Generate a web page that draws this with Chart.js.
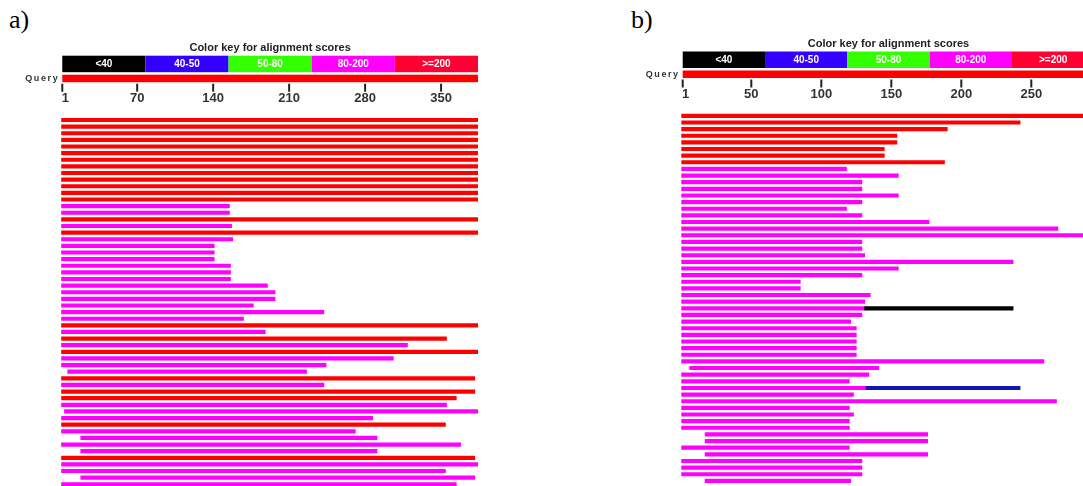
<!DOCTYPE html>
<html>
<head>
<meta charset="utf-8">
<script src="https://cdn.jsdelivr.net/npm/chart.js@4.4.1/dist/chart.umd.min.js"></script>
<style>
  body { margin: 0; width: 1083px; height: 486px; overflow: hidden; background: #fff; position: relative; }
  .lbl { position: absolute; font-family: "Liberation Serif", serif; font-size: 26px; line-height: 26px; color: #000; }
  canvas { position: absolute; top: 0; }
</style>
</head>
<body>
<div class="lbl" style="left:9px; top:7px">a)</div>
<div class="lbl" style="left:631px; top:7px">b)</div>
<canvas id="chartA" width="540" height="500" style="left:0"></canvas>
<canvas id="chartB" width="520" height="500" style="left:600px"></canvas>
<script>
// colour key (score bins)
const keyLabels = ["<40", "40-50", "50-80", "80-200", ">=200"];
const keyColors = ["#000000", "#3300ff", "#33ff00", "#ff00ff", "#ff0033"];
const hitColors = ["#000000", "#1414b0", "#33ff00", "#ff00ff", "#ff0000"];

// panel a) query length 384
const lenA = 384;
const ticksA = [1, 70, 140, 210, 280, 350];
const startA = [1,1,1,1,1,1,1,1,1,1,1,1,1, 1,1,1,1,1,1,1,1,1,1,1,1,1,1,1,1,1,1,1,1,1,1,1,1,1,7,1,1,1,1,1,4,1,1,1,19,1,19,1,1,1,19,1];
const endA   = [384,384,384,384,384,384,384,384,384,384,384,384,384, 155,155,384,157,384,158,141,141,141,156,156,156,190,197,197,177,242,168,384,188,355,319,384,306,244,226,381,242,381,364,355,384,287,354,271,291,368,291,381,384,354,381,364];
const binA   = [4,4,4,4,4,4,4,4,4,4,4,4,4, 3,3,4,3,4,3,3,3,3,3,3,3,3,3,3,3,3,3,4,3,4,3,4,3,3,3,4,3,4,4,3,3,3,4,3,3,3,3,4,3,3,3,3];

// panel b) query length 295
const lenB = 295;
const ticksB = [1, 50, 100, 150, 200, 250];
const startB = [1,1,1,1,1,1,1,1, 1,1,1,1,1,1,1,1,1,1,1,1,1,1,1,1,1,1,1,1,1,1,1,1,1,1,1,1,1,1,7,1,1,1,1,1,1,1,1,1,18,18,1,18,1,1,1,18];
const endB   = [295,242,190,154,154,145,145,188, 118,155,129,129,155,129,118,129,177,269,295,129,129,131,237,155,129,85,85,135,131,131,129,121,125,125,125,125,125,259,141,134,120,132,123,268,120,123,120,120,176,176,120,176,129,129,129,121];
const binB   = [4,4,4,4,4,4,4,4, 3,3,3,3,3,3,3,3,3,3,3,3,3,3,3,3,3,3,3,3,3,3,3,3,3,3,3,3,3,3,3,3,3,3,3,3,3,3,3,3,3,3,3,3,3,3,3,3];
// second HSP on the same subject row
const extraRowB   = [29, 41];
const extraStartB = [131, 132];
const extraEndB   = [237, 242];
const extraBinB   = [0, 1];

const headerPlugin = {
  id: "blastHeader",
  afterDraw(chart, args, opts) {
    const ctx = chart.ctx;
    const xs = chart.scales.x;
    const top = chart.chartArea.top;
    const left = xs.getPixelForValue(1);
    const right = xs.getPixelForValue(xs.max);
    ctx.save();

    ctx.fillStyle = "#222";
    ctx.font = "bold 11px 'Liberation Sans', Arial, sans-serif";
    ctx.textAlign = "center";
    ctx.textBaseline = "middle";
    ctx.fillText("Color key for alignment scores", (left + right) / 2, top - 69);

    // colour key
    const seg = (right - left) / keyLabels.length;
    keyLabels.forEach((lab, i) => {
      ctx.fillStyle = keyColors[i];
      ctx.fillRect(left + i * seg, top - 61, seg, 16.5);
      ctx.fillStyle = "#fff";
      ctx.font = "bold 10px 'Liberation Sans', Arial, sans-serif";
      ctx.fillText(lab, left + (i + 0.5) * seg, top - 52.5);
    });

    // query bar
    ctx.fillStyle = "#ff0000";
    ctx.fillRect(left, top - 42, right - left, 7.5);
    ctx.fillStyle = "#333";
    ctx.font = "bold 9px 'Liberation Sans', Arial, sans-serif";
    ctx.letterSpacing = "1.6px";
    ctx.textAlign = "right";
    ctx.fillText("Query", left - 3, top - 38);
    ctx.letterSpacing = "0px";

    // ruler
    ctx.strokeStyle = "#222";
    ctx.lineWidth = 2;
    ctx.fillStyle = "#333";
    ctx.font = "bold 13px 'Liberation Sans', Arial, sans-serif";
    ctx.textAlign = "center";
    opts.ticks.forEach(t => {
      const px = xs.getPixelForValue(t);
      ctx.beginPath();
      ctx.moveTo(px, top - 33);
      ctx.lineTo(px, top - 25);
      ctx.stroke();
      ctx.fillText(String(t), t === 1 ? px + 3 : px, top - 18.5);
    });
    ctx.restore();
  }
};

// hits are drawn from (start - 1) to end, as in the BLAST graphic
function buildDatasets(starts, ends, bins, exRows, exStarts, exEnds, exBins) {
  const sets = [];
  for (let k = 0; k < keyLabels.length; k++) {
    const data = starts.map((s, i) => bins[i] === k ? [s - 1, ends[i]] : null);
    exRows.forEach((r, j) => { if (exBins[j] === k) data[r] = [exStarts[j], exEnds[j]]; });
    if (data.every(d => d === null)) continue;
    sets.push({
      data,
      backgroundColor: hitColors[k],
      borderWidth: 0,
      borderSkipped: false,
      barThickness: 3.5,
      grouped: false
    });
  }
  return sets;
}

function makeChart(id, starts, ends, bins, ex, len, ticks, padding) {
  return new Chart(document.getElementById(id), {
    type: "bar",
    data: {
      labels: starts.map((_, i) => String(i + 1)),
      datasets: buildDatasets(starts, ends, bins, ex[0], ex[1], ex[2], ex[3])
    },
    options: {
      indexAxis: "y",
      responsive: false,
      animation: false,
      devicePixelRatio: 1,
      layout: { padding },
      plugins: {
        legend: { display: false },
        tooltip: { enabled: false },
        blastHeader: { ticks }
      },
      scales: {
        x: { type: "linear", min: 0, max: len, display: false },
        y: { type: "category", display: false }
      }
    },
    plugins: [headerPlugin]
  });
}

makeChart("chartA", startA, endA, binA, [[], [], [], []], lenA, ticksA,
  { left: 61.2, right: 62, top: 116.7, bottom: 12.4 });
makeChart("chartB", startB, endB, binB, [extraRowB, extraStartB, extraEndB, extraBinB], lenB, ticksB,
  { left: 81.3, right: 25.7, top: 112.5, bottom: 15.8 });
</script>
</body>
</html>
